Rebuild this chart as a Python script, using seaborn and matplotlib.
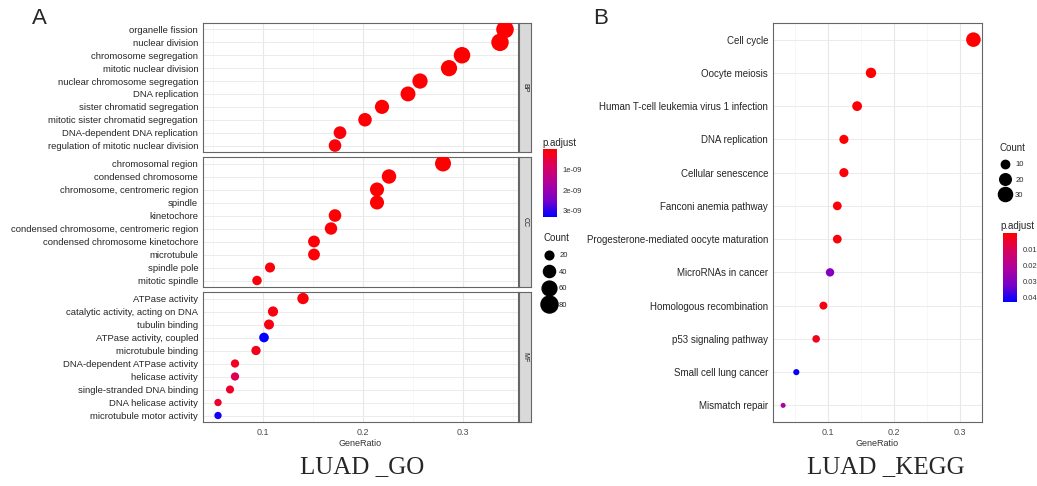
import matplotlib
matplotlib.use("Agg")
import matplotlib.pyplot as plt
import seaborn as sns
import pandas as pd
import numpy as np
from matplotlib.colors import LinearSegmentedColormap, Normalize
from matplotlib.lines import Line2D
import matplotlib.cm as cm

# ---- data: LUAD GO enrichment ----
bp_terms = ["organelle fission", "nuclear division", "chromosome segregation",
            "mitotic nuclear division", "nuclear chromosome segregation", "DNA replication",
            "sister chromatid segregation", "mitotic sister chromatid segregation",
            "DNA-dependent DNA replication", "regulation of mitotic nuclear division"]
bp_ratio = [0.342, 0.337, 0.299, 0.286, 0.257, 0.245, 0.219, 0.202, 0.177, 0.172]
bp_count = [85, 84, 75, 72, 64, 61, 55, 50, 44, 43]
bp_padj = [1e-11, 1e-11, 2e-11, 2e-11, 3e-11, 3e-11, 5e-11, 6e-11, 8e-11, 9e-11]

cc_terms = ["chromosomal region", "condensed chromosome", "chromosome, centromeric region",
            "spindle", "kinetochore", "condensed chromosome, centromeric region",
            "condensed chromosome kinetochore", "microtubule", "spindle pole", "mitotic spindle"]
cc_ratio = [0.280, 0.226, 0.214, 0.214, 0.172, 0.168, 0.151, 0.151, 0.107, 0.094]
cc_count = [70, 57, 54, 54, 43, 42, 38, 38, 27, 24]
cc_padj = [1e-11, 2e-11, 2e-11, 3e-11, 4e-11, 5e-11, 6e-11, 7e-11, 1e-10, 1.2e-10]

mf_terms = ["ATPase activity", "catalytic activity, acting on DNA", "tubulin binding",
            "ATPase activity, coupled", "microtubule binding", "DNA-dependent ATPase activity",
            "helicase activity", "single-stranded DNA binding", "DNA helicase activity",
            "microtubule motor activity"]
mf_ratio = [0.140, 0.110, 0.106, 0.101, 0.093, 0.072, 0.072, 0.067, 0.055, 0.055]
mf_count = [35, 28, 27, 25, 23, 18, 18, 17, 14, 14]
mf_padj = [1e-10, 1.5e-10, 1.8e-10, 3.25e-09, 2.2e-10, 3e-10, 7e-10, 3.5e-10, 4e-10, 3.15e-09]

# ---- data: LUAD KEGG enrichment ----
kegg_terms = ["Cell cycle", "Oocyte meiosis", "Human T-cell leukemia virus 1 infection",
              "DNA replication", "Cellular senescence", "Fanconi anemia pathway",
              "Progesterone-mediated oocyte maturation", "MicroRNAs in cancer",
              "Homologous recombination", "p53 signaling pathway", "Small cell lung cancer",
              "Mismatch repair"]
kegg_ratio = [0.320, 0.165, 0.144, 0.124, 0.124, 0.114, 0.114, 0.103, 0.093, 0.082, 0.052, 0.032]
kegg_count = [32, 16, 14, 12, 12, 11, 11, 10, 9, 8, 5, 3]
kegg_padj = [1e-10, 5e-05, 0.0005, 1e-05, 0.001, 0.0008, 0.001, 0.030, 0.002, 0.003, 0.042, 0.022]

go_size_ticks = [20, 40, 60, 80]
kegg_size_ticks = [10, 20, 30]

W, H = 1037, 486
fig = plt.figure(figsize=(W / 100, H / 100), dpi=100)
sns.set_style("white")
plt.rcParams["font.family"] = ["Liberation Sans", "DejaVu Sans"]

cmap = LinearSegmentedColormap.from_list("rb", ["#FF0000", "#D8005E", "#B0009A", "#7A00C8", "#0000FF"])


def box(l, t, r, b):
    return [l / W, 1 - b / H, (r - l) / W, (b - t) / H]


def dotpanel(ax, terms, ratio, count, padj, norm, sizes, size_norm, xlim, fs):
    df = pd.DataFrame({"term": terms, "GeneRatio": ratio, "Count": count, "p.adjust": padj})
    # grid first
    for v in np.arange(0.05, 0.36, 0.1):
        ax.axvline(v, color="#F4F4F4", lw=0.5, zorder=0)
    for v in [0.1, 0.2, 0.3]:
        ax.axvline(v, color="#E8E8E8", lw=0.8, zorder=0)
    sns.scatterplot(data=df, x="GeneRatio", y="term", hue="p.adjust", palette=cmap,
                    hue_norm=norm, size="Count", sizes=sizes, size_norm=size_norm,
                    linewidth=0, legend=False, ax=ax, zorder=3)
    for i in range(len(terms)):
        ax.axhline(i, color="#EBEBEB", lw=0.7, zorder=0)
    ax.set_ylim(len(terms) - 0.5, -0.5)
    ax.set_xlim(*xlim)
    ax.set_xticks([0.1, 0.2, 0.3])
    ax.set_ylabel("")
    ax.tick_params(axis="y", labelsize=fs, length=2, width=0.5, color="#333333", pad=1.5,
                   labelcolor="#262626")
    ax.tick_params(axis="x", labelsize=6.5, length=2, width=0.5, color="#333333", pad=2,
                   labelcolor="#4D4D4D")
    for s in ax.spines.values():
        s.set_color("#666666")
        s.set_linewidth(0.8)


# ---- panel A ----
go_norm = Normalize(0, 3.3e-9)
go_sizes = (28, 160)
go_snorm = (14, 85)
go_xlim = (0.04, 0.355)
rows = [(23, 152, bp_terms, bp_ratio, bp_count, bp_padj, "BP"),
        (157, 287, cc_terms, cc_ratio, cc_count, cc_padj, "CC"),
        (292, 422, mf_terms, mf_ratio, mf_count, mf_padj, "MF")]
for k, (t, b, terms, ratio, count, padj, lab) in enumerate(rows):
    ax = fig.add_axes(box(203, t, 518, b))
    dotpanel(ax, terms, ratio, count, padj, go_norm, go_sizes, go_snorm, go_xlim, 6.8)
    if k < 2:
        ax.set_xticklabels([])
        ax.tick_params(axis="x", length=0)
        ax.set_xlabel("")
    else:
        ax.set_xlabel("GeneRatio", fontsize=6.5, labelpad=2, color="#333333")
    sax = fig.add_axes(box(519, t, 531, b))
    sax.set_facecolor("#D9D9D9")
    sax.set_xticks([])
    sax.set_yticks([])
    for s in sax.spines.values():
        s.set_color("#666666")
        s.set_linewidth(0.8)
    sax.text(0.5, 0.5, lab, rotation=270, ha="center", va="center", fontsize=5,
             color="#1A1A1A", transform=sax.transAxes)

# colorbar A
cax = fig.add_axes(box(543, 149, 557, 217))
cb = fig.colorbar(cm.ScalarMappable(norm=go_norm, cmap=cmap), cax=cax)
cb.set_ticks([1e-9, 2e-9, 3e-9])
cb.set_ticklabels(["1e-09", "2e-09", "3e-09"])
cax.invert_yaxis()
cb.outline.set_visible(False)
cax.tick_params(length=0, labelsize=5.5, pad=4, labelcolor="#333333")
fig.text(542 / W, 1 - 143 / H, "p.adjust", fontsize=7, va="center", ha="left")


# size legend keys
def size_handles(ticks, sizes, snorm):
    hs = []
    for v in ticks:
        s = sizes[0] + (v - snorm[0]) / (snorm[1] - snorm[0]) * (sizes[1] - sizes[0])
        hs.append(Line2D([], [], marker="o", linestyle="", color="black",
                         markersize=np.sqrt(s), label=str(v)))
    return hs


fig.legend(handles=size_handles(go_size_ticks, go_sizes, go_snorm), title="Count",
           loc="upper left", bbox_to_anchor=(540 / W, 1 - 229 / H), frameon=False,
           fontsize=5.5, title_fontsize=7, labelspacing=1.2, handletextpad=0.6,
           borderpad=0, handlelength=1.4, alignment="left")

# ---- panel B ----
kegg_norm = Normalize(0.0, 0.0425)
kegg_sizes = (13, 110)
kegg_snorm = (3, 32)
axb = fig.add_axes(box(773, 23, 982, 422))
dotpanel(axb, kegg_terms, kegg_ratio, kegg_count, kegg_padj, kegg_norm, kegg_sizes,
         kegg_snorm, (0.0167, 0.333), 7.0)
axb.set_xlabel("GeneRatio", fontsize=6.5, labelpad=2, color="#333333")

fig.legend(handles=size_handles(kegg_size_ticks, kegg_sizes, kegg_snorm), title="Count",
           loc="upper left", bbox_to_anchor=(996 / W, 1 - 139 / H), frameon=False,
           fontsize=5.5, title_fontsize=7, labelspacing=1.05, handletextpad=0.6,
           borderpad=0, handlelength=1.4, alignment="left")

caxb = fig.add_axes(box(1003, 233, 1017, 302))
cbb = fig.colorbar(cm.ScalarMappable(norm=kegg_norm, cmap=cmap), cax=caxb)
cbb.set_ticks([0.01, 0.02, 0.03, 0.04])
cbb.set_ticklabels(["0.01", "0.02", "0.03", "0.04"])
caxb.invert_yaxis()
cbb.outline.set_visible(False)
caxb.tick_params(length=0, labelsize=5.5, pad=4, labelcolor="#333333")
fig.text(1000 / W, 1 - 226 / H, "p.adjust", fontsize=7, va="center", ha="left")

# panel letters and titles
fig.text(32 / W, 1 - 18 / H, "A", fontsize=16, va="center", ha="left")
fig.text(593 / W, 1 - 18 / H, "B", fontsize=16, va="center", ha="left")
fig.text(362 / W, 1 - 467 / H, "LUAD _GO", fontsize=18, ha="center", va="center",
         family=["Liberation Serif", "DejaVu Serif"])
fig.text(886 / W, 1 - 467 / H, "LUAD _KEGG", fontsize=18, ha="center", va="center",
         family=["Liberation Serif", "DejaVu Serif"])

fig.savefig("out.png", dpi=100)
